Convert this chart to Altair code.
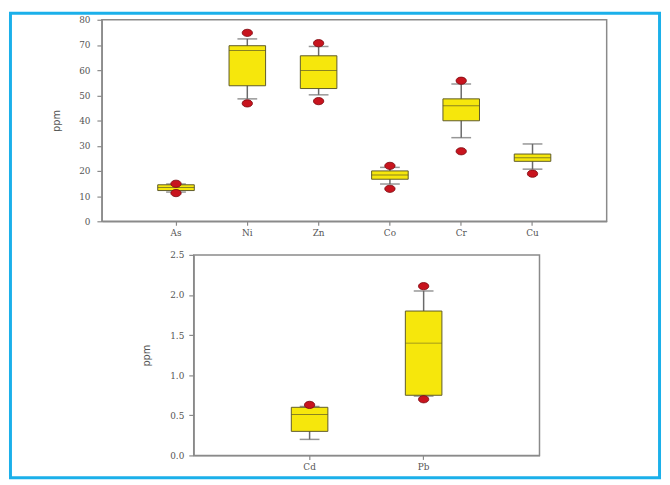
import altair as alt
import pandas as pd

# ---- top panel data (ppm) ----
top_cat = ["As", "Ni", "Zn", "Co", "Cr", "Cu"]
top_wlow = [11.6, 48.6, 50.2, 14.8, 33.2, 20.7]
top_q1 = [12.2, 53.8, 52.7, 16.7, 39.9, 23.8]
top_med = [13.4, 67.8, 59.9, 18.4, 45.9, 25.2]
top_q3 = [14.5, 69.7, 65.7, 20.0, 48.6, 26.7]
top_whigh = [14.8, 72.4, 69.4, 21.4, 54.5, 30.7]
top_out_cat = ["As", "As", "Ni", "Ni", "Zn", "Zn", "Co", "Co", "Cr", "Cr", "Cu"]
top_out_val = [14.9, 11.2, 74.8, 46.8, 70.7, 47.7, 22.0, 12.9, 55.8, 27.8, 18.9]
top_ticks = [0, 10, 20, 30, 40, 50, 60, 70, 80]

# ---- bottom panel data (ppm) ----
bot_cat = ["Cd", "Pb"]
bot_wlow = [0.20, 0.74]
bot_q1 = [0.30, 0.75]
bot_med = [0.51, 1.40]
bot_q3 = [0.60, 1.80]
bot_whigh = [0.61, 2.05]
bot_out_cat = ["Cd", "Pb", "Pb"]
bot_out_val = [0.63, 2.11, 0.70]
bot_ticks = [0.0, 0.5, 1.0, 1.5, 2.0, 2.5]

YELLOW = "#f6e70c"
BOX_STROKE = "#5e5a2a"
WHISK = "#6a6a6a"
RED = "#c8141e"
ELLIPSE = "M-1,0 A1,0.7 0 1,0 1,0 A1,0.7 0 1,0 -1,0 Z"
LABEL_FONT = "DejaVu Serif"
TITLE_FONT = "Liberation Sans Narrow, DejaVu Sans Condensed, sans-serif"


def panel(cats, wlow, q1, med, q3, whigh, ocat, oval, ticks, domain,
          pad_outer, fmt, title_pad, label_pad):
    df = pd.DataFrame({"cat": cats, "wlow": wlow, "q1": q1, "med": med,
                       "q3": q3, "whigh": whigh})
    od = pd.DataFrame({"cat": ocat, "val": oval})
    xs = alt.X("cat:N", sort=cats, title=None,
               scale=alt.Scale(type="band", paddingInner=0, paddingOuter=pad_outer),
               axis=alt.Axis(labelAngle=0, tickSize=4, labelPadding=3,
                             domainColor="#8a8a8a", tickColor="#8a8a8a"))
    ys = alt.Scale(domain=domain, nice=False, zero=True)
    yax = alt.Axis(values=ticks, format=fmt, tickSize=5, labelPadding=label_pad,
                   labelOverlap=False, titlePadding=title_pad,
                   domainColor="#8a8a8a", tickColor="#8a8a8a")

    def Y(field):
        return alt.Y(field, scale=ys, axis=yax, title="ppm")

    base = alt.Chart(df)
    whisk = base.mark_rule(color=WHISK, strokeWidth=1.5).encode(
        x=xs, y=Y("wlow:Q"), y2="whigh:Q")
    cap_lo = base.mark_tick(color=WHISK, size=20, thickness=1.5).encode(
        x=xs, y=Y("wlow:Q"))
    cap_hi = base.mark_tick(color=WHISK, size=20, thickness=1.5).encode(
        x=xs, y=Y("whigh:Q"))
    box = base.mark_bar(size=37, color=YELLOW, stroke=BOX_STROKE, strokeWidth=1).encode(
        x=xs, y=Y("q1:Q"), y2="q3:Q")
    medl = base.mark_tick(color=BOX_STROKE, size=37, thickness=1).encode(
        x=xs, y=Y("med:Q"))
    outl = alt.Chart(od).mark_point(shape=ELLIPSE, size=110, filled=True, color=RED,
                                    stroke="#7a0a10", strokeWidth=0.8, opacity=1).encode(
        x=xs, y=Y("val:Q"))
    return [whisk, cap_lo, cap_hi, box, medl, outl]


top_layers = panel(top_cat, top_wlow, top_q1, top_med, top_q3, top_whigh,
                   top_out_cat, top_out_val, top_ticks, [0, 80],
                   0.54, "d", 17, 7)
bot_layers = panel(bot_cat, bot_wlow, bot_q1, bot_med, bot_q3, bot_whigh,
                   bot_out_cat, bot_out_val, bot_ticks, [0, 2.5],
                   0.516, ".1f", 18, 5)

border = alt.Chart(pd.DataFrame({"b": [0]})).mark_rect(
    fillOpacity=0, stroke="#1bb0ea", strokeWidth=3, clip=False).encode(
    x=alt.value(-92.5), x2=alt.value(564.5), y=alt.value(-6.5), y2=alt.value(463.5))

top = alt.layer(*top_layers, border).properties(width=511, height=204)
bottom = alt.layer(*bot_layers).properties(width=350, height=203)

spacer = alt.Chart(pd.DataFrame({"a": [0]})).mark_point(opacity=0).encode(
    x=alt.X("a:Q", axis=None), y=alt.Y("a:Q", axis=None)
).properties(width=93, height=203, view=alt.ViewBackground(strokeOpacity=0))

row2 = alt.hconcat(spacer, bottom, spacing=0, bounds="flush")

chart = alt.vconcat(top, row2, spacing=34, bounds="flush").properties(
    padding=0, background="white"
).configure_view(
    stroke="#8a8a8a", strokeWidth=1.5
).configure_axis(
    grid=False, labelFont=LABEL_FONT, labelFontSize=9, labelColor="#555555",
    titleFont=TITLE_FONT, titleFontSize=11, titleFontWeight="normal",
    titleColor="#555555", domainWidth=1.2, tickWidth=1.2, labelOverlap=False
)

chart.save("out.html", embed_options={"renderer": "svg", "actions": False})
